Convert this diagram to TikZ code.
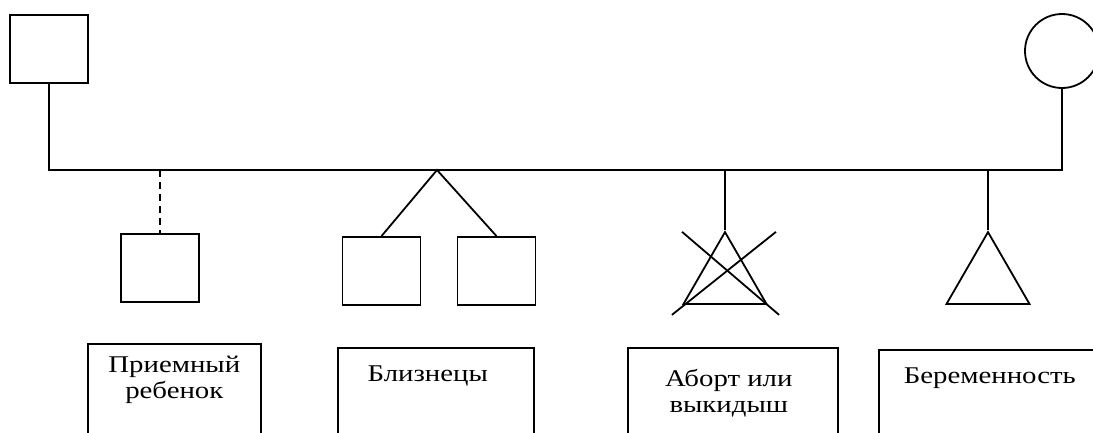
\documentclass[tikz,border=0pt]{standalone}
\usepackage{fontspec}
\setmainfont{Liberation Serif}
\newfontfamily\lblfont[FakeStretch=1.2]{Liberation Serif}
\usepackage{tikz}
\usetikzlibrary{calc, shapes.geometric}
\tikzset{>=latex}
\tikzset{
  person/.style = {draw, line width = 1.8pt, inner sep = 0pt},
  male/.style = {person, rectangle, minimum width = 78pt, minimum height = 68pt},
  female/.style = {person, circle, minimum size = 74pt},
  preg/.style = {person, regular polygon, regular polygon sides = 3, minimum size = 95.8pt},
  lblbox/.style = {draw, line width = 1.6pt, rectangle, anchor = north west, minimum height = 120pt},
  lbl/.style = {font = \lblfont\fontsize{24}{26}\selectfont, align = center, inner sep = 0pt},
  line/.style = {line width = 1.8pt}
}

\begin{document}
\begin{tikzpicture}[x = 1pt, y = -1pt]
\clip (0,0) rectangle (1093,432);
\coordinate (bar) at (0,170);
% parents
\node[male] (dad) at (49,49) {};
\node[female] (mom) at (1062,51) {};
\draw[line] (dad.south) -- (dad.south |- bar) -- (mom.south |- bar) -- (mom.south);
% adopted child
\node[male] (adopt) at (160,268) {};
\draw[line, dash pattern = on 7pt off 5pt] (adopt.north |- bar) -- (adopt.north);
% twins
\node[male] (twa) at (381.5,271) {};
\node[male] (twb) at (496.5,271) {};
\coordinate (twtop) at (437,170);
\draw[line] (twa.north) -- (twtop) -- (twb.north);
% abortion
\node[preg] (abort) at (725,280) {};
\draw[line] (abort.corner 1 |- bar) -- (abort.corner 1);
\draw[line] ($(abort.corner 3)+(-86,-73)$) -- ($(abort.corner 3)+(11,10)$);
\draw[line] ($(abort.corner 2)+(94,-73)$) -- ($(abort.corner 2)+(-10,10)$);
% pregnancy
\node[preg] (preg) at (988,280) {};
\draw[line] (preg.corner 1 |- bar) -- (preg.corner 1);
% labels
\node[lblbox, minimum width = 173pt] (bx1) at (87,343) {};
\node[lblbox, minimum width = 196pt] (bx2) at (337,347) {};
\node[lblbox, minimum width = 210pt] (bx3) at (627,347) {};
\node[lblbox, minimum width = 240pt] (bx4) at (878,349) {};
\node[lbl] (t1) at ($(bx1.north)+(0,37)$) {Приемный\\ребенок};
\node[lbl] (t2) at ($(bx2.north)+(-8,29)$) {Близнецы};
\node[lbl] (t3) at ($(bx3.north)+(-4,46)$) {Аборт или\\выкидыш};
\node[lbl] (t4) at ($(bx4.north)+(-9,29)$) {Беременность};
\end{tikzpicture}
\end{document}
